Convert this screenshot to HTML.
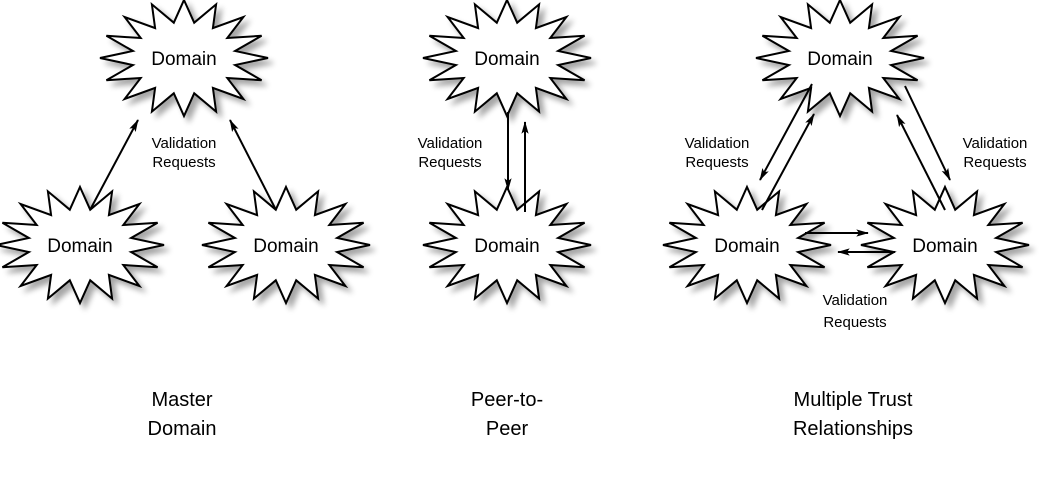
<!DOCTYPE html>
<html><head><meta charset="utf-8"><style>
body{margin:0;background:#fff}
svg{display:block}
text{font-family:"Liberation Sans",sans-serif;fill:#000}
</style></head><body>
<svg id="s" width="1044" height="496" viewBox="0 0 1044 496">
<defs>
<filter id="sh" x="-20%" y="-20%" width="150%" height="150%">
<feGaussianBlur in="SourceAlpha" stdDeviation="3"/>
<feOffset dx="5" dy="5"/>
<feComponentTransfer><feFuncA type="linear" slope="0.35"/></feComponentTransfer>
<feMerge><feMergeNode/><feMergeNode in="SourceGraphic"/></feMerge>
</filter>
<marker id="a" viewBox="0 0 14 10" refX="13" refY="5" markerWidth="13" markerHeight="9" orient="auto" markerUnits="userSpaceOnUse"><path d="M0,1 L14,5 L0,9 L3,5 z" fill="#000"/></marker>
</defs>
<g id="stars"></g>
<g stroke="#000" stroke-width="2" marker-end="url(#a)">
<line x1="90" y1="210" x2="138" y2="120"/>
<line x1="276" y1="210" x2="230" y2="120"/>
<line x1="508" y1="112" x2="508" y2="190"/>
<line x1="525" y1="212" x2="525" y2="122"/>
<line x1="812" y1="84" x2="760" y2="180"/>
<line x1="762" y1="210" x2="814" y2="114"/>
<line x1="905" y1="86" x2="950" y2="180"/>
<line x1="945" y1="210" x2="897" y2="115"/>
<line x1="805" y1="233" x2="868" y2="233"/>
<line x1="895" y1="252" x2="838" y2="252"/>
</g>
<g font-size="15" text-anchor="middle">
<text x="184" y="148">Validation</text><text x="184" y="167">Requests</text>
<text x="450" y="148">Validation</text><text x="450" y="167">Requests</text>
<text x="717" y="148">Validation</text><text x="717" y="167">Requests</text>
<text x="995" y="148">Validation</text><text x="995" y="167">Requests</text>
<text x="855" y="305">Validation</text><text x="855" y="327">Requests</text>
</g>
<g font-size="20" text-anchor="middle">
<text x="182" y="406">Master</text><text x="182" y="435">Domain</text>
<text x="507" y="406">Peer-to-</text><text x="507" y="435">Peer</text>
<text x="853" y="406">Multiple Trust</text><text x="853" y="435">Relationships</text>
</g>
</svg>
<script>
var g=document.getElementById('stars');
var c=[[184,58],[80,245],[286,245],[507,58],[507,245],[840,58],[747,245],[945,245]];
c.forEach(function(p){
 var n=16,pts=[];
 for(var i=0;i<2*n;i++){
  var ang=-Math.PI/2+i*Math.PI/n;
  var r=i%2?0.62:1;
  pts.push((p[0]+Math.cos(ang)*84*r).toFixed(1)+','+(p[1]+Math.sin(ang)*58*r).toFixed(1));
 }
 var pg=document.createElementNS('http://www.w3.org/2000/svg','polygon');
 pg.setAttribute('points',pts.join(' '));
 pg.setAttribute('fill','#fff');pg.setAttribute('stroke','#000');pg.setAttribute('stroke-width','2');
 pg.setAttribute('stroke-linejoin','miter');pg.setAttribute('filter','url(#sh)');
 g.appendChild(pg);
 var t=document.createElementNS('http://www.w3.org/2000/svg','text');
 t.setAttribute('x',p[0]);t.setAttribute('y',p[1]+7);t.setAttribute('text-anchor','middle');t.setAttribute('font-size','19');
 t.textContent='Domain';g.appendChild(t);
});
</script>
</body></html>
